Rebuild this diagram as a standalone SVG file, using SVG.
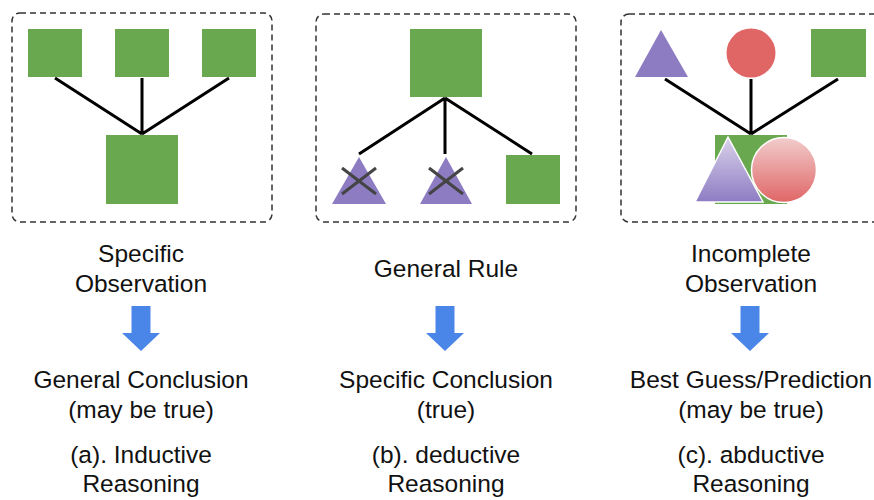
<svg xmlns="http://www.w3.org/2000/svg" width="874" height="500" viewBox="0 0 874 500">
  <defs>
    <linearGradient id="gTri" x1="0" y1="0" x2="0" y2="1">
      <stop offset="0" stop-color="#d9d2ea"/>
      <stop offset="1" stop-color="#8e7cc3"/>
    </linearGradient>
    <linearGradient id="gCir" x1="0" y1="0" x2="0" y2="1">
      <stop offset="0" stop-color="#f2cccc"/>
      <stop offset="1" stop-color="#e06666"/>
    </linearGradient>
    <style>
      .box { fill: none; stroke: #333; stroke-width: 1.5; stroke-dasharray: 6 4; }
      .sq { fill: #6aa84f; }
      .tri { fill: #8e7cc3; }
      .cir { fill: #e06666; }
      .edge { stroke: #000; stroke-width: 3; fill: none; }
      .x { stroke: #444; stroke-width: 3; }
      .arrow { fill: #4a86e8; }
      text { font-family: "Liberation Sans", Arial, sans-serif; font-size: 24.5px; fill: #111; text-anchor: middle; }
    </style>
  </defs>

  <!-- Panel (a) -->
  <g id="panel-a">
    <rect class="box" x="12" y="13" width="260" height="209" rx="8"/>
    <rect class="sq" x="28" y="29" width="54" height="48"/>
    <rect class="sq" x="115" y="29" width="54" height="48"/>
    <rect class="sq" x="202" y="29" width="54" height="48"/>
    <rect class="sq" x="106" y="135" width="72" height="69"/>
  </g>

  <!-- Panel (b) -->
  <g id="panel-b">
    <rect class="box" x="316" y="14" width="260" height="208" rx="8"/>
    <rect class="sq" x="410" y="29" width="72" height="68"/>
    <polygon class="tri" points="359,157 386,204 332,204"/>
    <polygon class="tri" points="446,157 472,204 420,204"/>
    <rect class="sq" x="506" y="155" width="54" height="49"/>
    <line class="x" x1="342" y1="168" x2="376" y2="194"/>
    <line class="x" x1="342" y1="194" x2="376" y2="168"/>
    <line class="x" x1="429" y1="168" x2="463" y2="194"/>
    <line class="x" x1="429" y1="194" x2="463" y2="168"/>
  </g>

  <!-- Panel (c) -->
  <g id="panel-c">
    <rect class="box" x="621" y="14" width="262" height="208" rx="8"/>
    <polygon class="tri" points="661,30 688,77 635,77"/>
    <circle class="cir" cx="751" cy="53" r="24.5"/>
    <rect class="sq" x="811" y="29" width="55" height="48"/>
    <rect class="sq" x="715" y="135" width="72" height="69"/>
    <polygon points="728,137 763,202 695,202" fill="url(#gTri)" stroke="#fff" stroke-width="1.5"/>
    <circle cx="784" cy="170" r="32.5" fill="url(#gCir)" stroke="#fff" stroke-width="1.5"/>
  </g>

  <!-- Connectors -->
  <g id="connectors">
    <path class="edge" d="M55,78 L142,134 M142,78 L142,134 M229,78 L142,134"/>
    <path class="edge" d="M445,98 L359,154 M445,98 L445,154 M445,98 L532,154"/>
    <path class="edge" d="M665,79 L751,134 M751,79 L751,134 M838,79 L751,134"/>
  </g>

  <!-- Flow arrows -->
  <g id="arrows">
    <polygon class="arrow" points="131.5,306 150.5,306 150.5,333 160,333 141,351 122,333 131.5,333"/>
    <polygon class="arrow" points="435.5,306 454.5,306 454.5,333 464,333 445,351 426,333 435.5,333"/>
    <polygon class="arrow" points="740.5,306 759.5,306 759.5,333 769,333 750,351 731,333 740.5,333"/>
  </g>

  <!-- Labels -->
  <g id="labels-a">
    <text x="141" y="262">Specific</text>
    <text x="141" y="292">Observation</text>
    <text x="141" y="388">General Conclusion</text>
    <text x="141" y="418">(may be true)</text>
    <text x="141" y="463">(a). Inductive</text>
    <text x="141" y="492">Reasoning</text>
  </g>
  <g id="labels-b">
    <text x="446" y="277">General Rule</text>
    <text x="446" y="388">Specific Conclusion</text>
    <text x="446" y="418">(true)</text>
    <text x="446" y="463">(b). deductive</text>
    <text x="446" y="492">Reasoning</text>
  </g>
  <g id="labels-c">
    <text x="751" y="262">Incomplete</text>
    <text x="751" y="292">Observation</text>
    <text x="751" y="388">Best Guess/Prediction</text>
    <text x="751" y="418">(may be true)</text>
    <text x="751" y="463">(c). abductive</text>
    <text x="751" y="492">Reasoning</text>
  </g>
</svg>
